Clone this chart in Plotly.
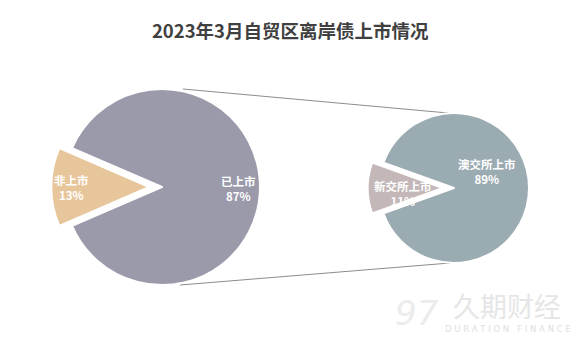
import plotly.graph_objects as go

W, H = 577, 339

title = "2023年3月自贸区离岸债上市情况"
left_labels = ["非上市", "已上市"]
left_values = [13, 87]
right_labels = ["新交所上市", "澳交所上市"]
right_values = [11, 89]

left_colors = ["#e8c69b", "#9a9aab"]
right_colors = ["#c3b7b8", "#9babb2"]

FONT = "Noto Sans CJK SC"


def px_dom(cx, cy, r, pull):
    half = r * (1 + pull)
    return dict(x=[(cx - half) / W, (cx + half) / W],
                y=[(H - cy - half) / H, (H - cy + half) / H])


LPULL, RPULL = 0.13, 0.15
fig = go.Figure()
fig.add_trace(go.Pie(
    labels=left_labels, values=left_values, sort=False, direction="clockwise",
    rotation=270 - left_values[0] / sum(left_values) * 180,
    pull=[LPULL, 0], marker=dict(colors=left_colors, line=dict(color="white", width=2)),
    textinfo="none", hoverinfo="label+percent", domain=px_dom(162, 187, 98, LPULL),
    showlegend=False,
))
fig.add_trace(go.Pie(
    labels=right_labels, values=right_values, sort=False, direction="clockwise",
    rotation=270 - right_values[0] / sum(right_values) * 180,
    pull=[RPULL, 0], marker=dict(colors=right_colors, line=dict(color="white", width=2)),
    textinfo="none", hoverinfo="label+percent", domain=px_dom(454, 188, 75, RPULL),
    showlegend=False,
))


def P(x, y):
    return x / W, 1 - y / H


shapes = []
for (x0, y0), (x1, y1) in [((183, 89), (448, 113)), ((180, 285), (450, 263))]:
    a, b = P(x0, y0)
    c, d = P(x1, y1)
    shapes.append(dict(type="line", xref="paper", yref="paper", x0=a, y0=b, x1=c, y1=d,
                       line=dict(color="#8c8c8c", width=1), layer="below"))

ann = []


def add(text, x, y, font):
    xx, yy = P(x, y)
    ann.append(dict(text=text, x=xx, y=yy, xref="paper", yref="paper", showarrow=False,
                    xanchor="center", yanchor="middle", align="center", font=font))


def label(text, val, x, y):
    add(f"<b>{text}<br>{val}%</b>", x, y, dict(family=FONT, size=11.5, color="white"))


label(left_labels[0], left_values[0], 71, 187)
label(left_labels[1], left_values[1], 238, 188)
label(right_labels[0], right_values[0], 403, 193)
label(right_labels[1], right_values[1], 487, 171)

# watermark
add("久期财经", 507, 305, dict(family=FONT, size=27, color="#e6e6e6"))
add("D U R A T I O N   F I N A N C E", 508, 329, dict(family="DejaVu Sans", size=8.5, color="#e0e0e0"))
add("<i>97</i>", 417, 313, dict(family="DejaVu Sans", size=34, color="#ececec"))

fig.update_layout(
    width=W, height=H, margin=dict(l=0, r=0, t=0, b=0),
    paper_bgcolor="white", plot_bgcolor="white",
    title=dict(text=f"<b>{title}</b>", x=0.503, xanchor="center", y=1 - 32 / H, yanchor="middle",
               font=dict(family=FONT, size=18.5, color="#404040")),
    shapes=shapes, annotations=ann,
)
fig.write_html("out.html")
